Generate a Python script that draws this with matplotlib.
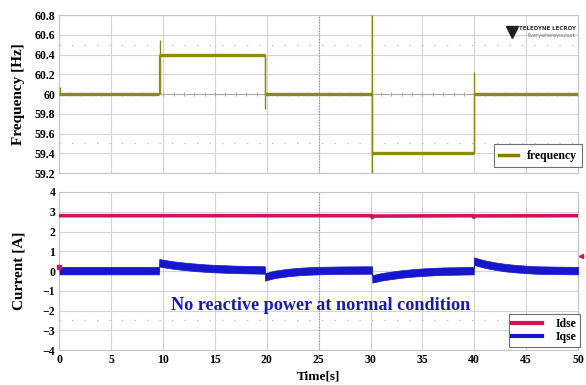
import numpy as np
import matplotlib.pyplot as plt
from matplotlib.lines import Line2D

plt.rcParams['font.family'] = ['Liberation Serif', 'DejaVu Serif']
plt.rcParams['font.weight'] = 'bold'
plt.rcParams['axes.labelweight'] = 'bold'

# ---- frequency trace (Hz) ----
freq_levels = [60.0, 60.4, 60.0, 59.4, 60.0]
freq_edges = [0, 9.6, 19.8, 30.15, 39.95, 50]
# transient spikes: time, low, high
spike_t = [0.05, 9.65, 19.8, 30.15, 39.95]
spike_lo = [60.0, 60.0, 59.85, 59.2, 59.4]
spike_hi = [60.07, 60.55, 60.4, 60.8, 60.22]

# ---- d/q currents (A) ----
idse_t = [0, 30.1, 30.15, 30.3, 39.9, 39.95, 40.1, 50]
idse_v = [2.8, 2.8, 2.7, 2.78, 2.8, 2.72, 2.79, 2.8]

iqse_t = [0, 9.6,
          9.62, 10, 11, 12, 13, 14, 15, 16, 17, 18, 19, 19.8,
          19.82, 20.5, 21, 22, 23, 24, 25, 27, 30.15,
          30.17, 31, 32, 33, 34, 35, 36, 37, 38, 39.95,
          39.97, 40.5, 41, 42, 43, 44, 45, 46, 48, 50]
iqse_v = [0.02, 0.02,
          0.42, 0.38, 0.3, 0.24, 0.19, 0.15, 0.12, 0.1, 0.08, 0.07, 0.06, 0.05,
          -0.3, -0.2, -0.15, -0.08, -0.03, 0.0, 0.02, 0.04, 0.05,
          -0.4, -0.3, -0.22, -0.15, -0.1, -0.06, -0.03, -0.01, 0.0, 0.02,
          0.5, 0.42, 0.35, 0.25, 0.17, 0.12, 0.08, 0.05, 0.03, 0.02]
iqse_half = 0.19

freq_color = '#8c8c08'
idse_color = '#c8175a'
iqse_color = '#1616cc'
grid_color = '#d4d4d4'

fig = plt.figure(figsize=(5.86, 3.85), dpi=100)
ax1 = fig.add_axes([0.1015, 0.5506, 0.8848, 0.4104])
ax2 = fig.add_axes([0.1015, 0.0909, 0.8848, 0.4104])


def scope_style(ax):
    ax.grid(True, color=grid_color, lw=0.8)
    ax.set_axisbelow(True)
    for s in ax.spines.values():
        s.set_color('#c4c4c4')
        s.set_linewidth(0.8)
    ax.tick_params(length=0, labelsize=8.5, pad=3)
    ax.set_xlim(0, 50)
    ax.set_xticks(np.arange(0, 51, 5))
    ax.axvline(25, color='#909090', lw=0.8, ls=(0, (1, 1.5)), zorder=1)


scope_style(ax1)
ax1.set_ylim(59.2, 60.8)
ax1.set_yticks([59.2, 59.4, 59.6, 59.8, 60, 60.2, 60.4, 60.6, 60.8])
ax1.set_yticklabels(['59.2', '59.4', '59.6', '59.8', '60', '60.2', '60.4', '60.6', '60.8'])
ax1.set_xticklabels([])
ax1.axhline(60, color='#a8a8a8', lw=0.8, zorder=1)
# scope centre-line tick marks
ax1.plot(np.arange(1, 50, 1), np.full(49, 60.0), ls='none', marker='|', ms=3,
         mew=0.7, color='#a8a8a8', zorder=1)
for yy in [60.5, 59.5]:
    ax1.axhline(yy, color='#b8b8b8', lw=0.9, ls=(0, (1, 9)), zorder=1)

ax1.hlines(freq_levels, freq_edges[:-1], freq_edges[1:], color=freq_color, lw=2.4, zorder=3)
ax1.vlines(freq_edges[1:-1], freq_levels[:-1], freq_levels[1:], color=freq_color, lw=0.9, zorder=3)
ax1.vlines(spike_t, spike_lo, spike_hi, color=freq_color, lw=1.0, zorder=3)
ax1.set_ylabel('Frequency [Hz]', fontsize=11)
ax1.yaxis.set_label_coords(-0.066, 0.5)

h1 = Line2D([], [], color='#8a7a00', lw=2.5)
leg1 = ax1.legend([h1], ['frequency'], loc='lower right', bbox_to_anchor=(1.0077, 0.038),
                  borderaxespad=0, fontsize=8.5, fancybox=False, edgecolor='#707070',
                  framealpha=1, handlelength=1.6, borderpad=0.45, handletextpad=0.7)
leg1.get_frame().set_linewidth(0.8)

ax1.text(0.996, 0.93, 'TELEDYNE LECROY', transform=ax1.transAxes, ha='right', va='top',
         fontsize=4, family='DejaVu Sans', weight='bold', color='#303030')
ax1.text(0.996, 0.885, 'Everywhereyoulook', transform=ax1.transAxes, ha='right', va='top',
         fontsize=3.5, family='DejaVu Sans', weight='normal', color='#707070')
ax1.plot([0.872], [0.895], transform=ax1.transAxes, marker='v', ms=9, color='#202020')

scope_style(ax2)
ax2.set_ylim(-4, 4)
ax2.set_yticks(np.arange(-4, 5, 1))
ax2.axhline(-2.5, color='#b8b8b8', lw=0.9, ls=(0, (1, 9)), zorder=1)
ax2.plot(idse_t, idse_v, color=idse_color, lw=2.6, zorder=3)
iqse = np.array(iqse_v)
ax2.fill_between(iqse_t, iqse - iqse_half, iqse + iqse_half, color=iqse_color, lw=0.5,
                 edgecolor=iqse_color, zorder=3)
ax2.plot([0], [0.2], marker='s', ms=3, color=idse_color, clip_on=False, zorder=4)
ax2.plot([50.3], [0.75], marker='<', ms=3, color=idse_color, clip_on=False, zorder=4)
ax2.set_ylabel('Current [A]', fontsize=11)
ax2.yaxis.set_label_coords(-0.066, 0.5)
ax2.set_xlabel('Time[s]', fontsize=9.5, labelpad=3)
ax2.text(25.2, -1.75, 'No reactive power at normal condition', ha='center', va='center',
         fontsize=13.1, color=iqse_color, weight='bold')

h_d = Line2D([], [], color=idse_color, lw=3)
h_q = Line2D([], [], color=iqse_color, lw=3)
leg2 = ax2.legend([h_d, h_q], ['Idse', 'Iqse'], loc='lower right', bbox_to_anchor=(1.004, 0.019),
                  borderaxespad=0, fontsize=8.5, fancybox=False, edgecolor='#707070',
                  framealpha=1, handlelength=2.5, borderpad=0.3, labelspacing=0.15,
                  handletextpad=1.2)
leg2.get_frame().set_linewidth(0.8)

fig.savefig('out.png', dpi=100)
